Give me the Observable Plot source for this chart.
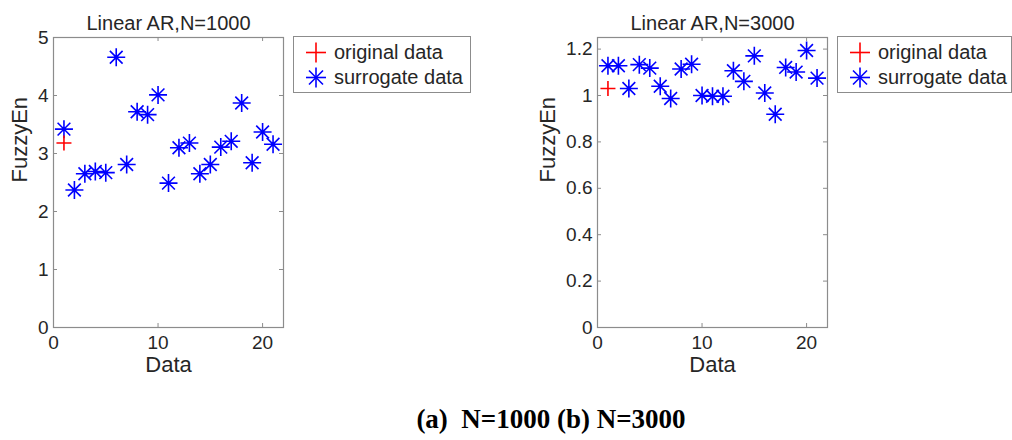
<!DOCTYPE html>
<html>
<head>
<meta charset="utf-8">
<script src="https://cdn.jsdelivr.net/npm/d3@7"></script>
<script src="https://cdn.jsdelivr.net/npm/@observablehq/plot@0.6"></script>
<style>
  html, body { margin: 0; padding: 0; background: #fff; }
  #root { position: relative; width: 1012px; height: 440px; overflow: hidden; background: #fff; font-family: "Liberation Sans", Arial, sans-serif; }
  .panel { position: absolute; top: 0; }
  .legend { position: absolute; background: #fff; border: 1px solid #8c8c8c; box-sizing: border-box; overflow: hidden; }
  .caption { position: absolute; left: 0; width: 1102px; top: 404px; text-align: center; font-family: "Liberation Serif", "Times New Roman", serif; font-weight: bold; font-size: 27px; color: #000; white-space: pre; }
</style>
</head>
<body>
<div id="root"></div>
<script>
// ---- data ----
const runIndex = [1, 2, 3, 4, 5, 6, 7, 8, 9, 10, 11, 12, 13, 14, 15, 16, 17, 18, 19, 20, 21];
const surrogate1000 = [3.42, 2.37, 2.65, 2.69, 2.67, 4.66, 2.81, 3.72, 3.67, 4.01, 2.49, 3.10, 3.18, 2.65, 2.81, 3.11, 3.21, 3.87, 2.84, 3.37, 3.16];
const original1000 = [{x: 1, y: 3.18}];
const surrogate3000 = [1.128, 1.128, 1.03, 1.133, 1.118, 1.04, 0.987, 1.114, 1.135, 1.0, 0.997, 0.997, 1.107, 1.061, 1.171, 1.011, 0.919, 1.121, 1.101, 1.194, 1.075];
const original3000 = [{x: 1, y: 1.03}];
const xTicks = [0, 10, 20];
const yTicks1000 = [0, 1, 2, 3, 4, 5];
const yTicks3000 = [0, 0.2, 0.4, 0.6, 0.8, 1, 1.2];
const titles = ["Linear AR,N=1000", "Linear AR,N=3000"];
const legendLabels = ["original data", "surrogate data"];
const captionText = "(a)  N=1000 (b) N=3000";

// ---- symbols (MATLAB-style markers) ----
const asterisk = {
  draw(ctx, size) {
    const r = Math.sqrt(size / Math.PI), d = r * Math.SQRT1_2;
    ctx.moveTo(-r, 0); ctx.lineTo(r, 0);
    ctx.moveTo(0, -r); ctx.lineTo(0, r);
    ctx.moveTo(-d, -d); ctx.lineTo(d, d);
    ctx.moveTo(-d, d); ctx.lineTo(d, -d);
  }
};
const plus = {
  draw(ctx, size) {
    const r = Math.sqrt(size / Math.PI);
    ctx.moveTo(-r, 0); ctx.lineTo(r, 0);
    ctx.moveTo(0, -r); ctx.lineTo(0, r);
  }
};

const H = 380, mR = 7, mT = 37, mB = 53;
const fw = 230, fh = H - mT - mB;
const frameColor = "#8c8c8c";
const textColor = "#262626";

function panel(surrogate, original, yDomain, yTicks, title, fmt, mL, ylabelDx) {
  const sData = runIndex.map((x, i) => ({x, y: surrogate[i]}));
  return Plot.plot({
    width: mL + fw + mR, height: H,
    marginLeft: mL, marginRight: mR, marginTop: mT, marginBottom: mB,
    style: {fontFamily: "'Liberation Sans', Arial, sans-serif", fontSize: "19px", color: textColor, background: "#fff"},
    x: {domain: [0, 22]},
    y: {domain: yDomain},
    marks: [
      Plot.frame({stroke: frameColor, strokeWidth: 1.2}),
      Plot.tickY(yTicks, {y: d => d, stroke: frameColor, insetRight: fw - 4}),
      Plot.tickY(yTicks, {y: d => d, stroke: frameColor, insetLeft: fw - 4}),
      Plot.tickX(xTicks, {x: d => d, stroke: frameColor, insetTop: fh - 4}),
      Plot.tickX(xTicks, {x: d => d, stroke: frameColor, insetBottom: fh - 4}),
      Plot.axisY(yTicks, {tickSize: 0, tickPadding: 5, fontSize: 19, fill: textColor, tickFormat: fmt, label: null}),
      Plot.axisX(xTicks, {tickSize: 0, tickPadding: 8, fontSize: 19, fill: textColor, label: null}),
      Plot.text([title], {text: d => d, frameAnchor: "top", dy: -22, fontSize: 20, fill: textColor}),
      Plot.text(["FuzzyEn"], {text: d => d, frameAnchor: "left", rotate: -90, dx: ylabelDx, fontSize: 22, fill: textColor}),
      Plot.text(["Data"], {text: d => d, frameAnchor: "bottom", dy: 44, fontSize: 22, fill: textColor}),
      Plot.dot(sData, {x: "x", y: "y", symbol: asterisk, r: 9, stroke: "#0000ff", strokeWidth: 1.6, fill: "none"}),
      Plot.dot(original, {x: "x", y: "y", symbol: plus, r: 7.5, stroke: "#ff0000", strokeWidth: 1.6, fill: "none"})
    ]
  });
}

function legendBox(left, width) {
  const div = document.createElement("div");
  div.className = "legend";
  Object.assign(div.style, {left: left + "px", top: "36px", width: width + "px", height: "57px"});
  const sx = 22, tx = 40;
  div.innerHTML = `<svg width="${width}" height="57" style="display:block;font-family:'Liberation Sans',Arial,sans-serif;font-size:20px">
    <g stroke="#ff0000" stroke-width="1.6"><line x1="${sx-10}" y1="15.5" x2="${sx+10}" y2="15.5"/><line x1="${sx}" y1="5.5" x2="${sx}" y2="25.5"/></g>
    <g stroke="#0000ff" stroke-width="1.6" transform="translate(${sx},40.5)"><line x1="-10" y1="0" x2="10" y2="0"/><line x1="0" y1="-10" x2="0" y2="10"/><line x1="-7" y1="-7" x2="7" y2="7"/><line x1="-7" y1="7" x2="7" y2="-7"/></g>
    <text x="${tx}" y="22" fill="${textColor}">${legendLabels[0]}</text>
    <text x="${tx}" y="47" fill="${textColor}">${legendLabels[1]}</text>
  </svg>`;
  return div;
}

const root = document.getElementById("root");
const fmt1 = d => String(d);
const fmt3 = d => String(+d.toFixed(1));

const p1 = panel(surrogate1000, original1000, [0, 5], yTicks1000, titles[0], fmt1, 53, -34);
const d1 = document.createElement("div"); d1.className = "panel"; d1.style.left = "0px"; d1.appendChild(p1); root.appendChild(d1);
const p2 = panel(surrogate3000, original3000, [0, 1.25], yTicks3000, titles[1], fmt3, 87, -50);
const d2 = document.createElement("div"); d2.className = "panel"; d2.style.left = "510px"; d2.appendChild(p2); root.appendChild(d2);

root.appendChild(legendBox(293, 178));
root.appendChild(legendBox(837, 175));

const cap = document.createElement("div");
cap.className = "caption";
cap.textContent = captionText;
root.appendChild(cap);
</script>
</body>
</html>
